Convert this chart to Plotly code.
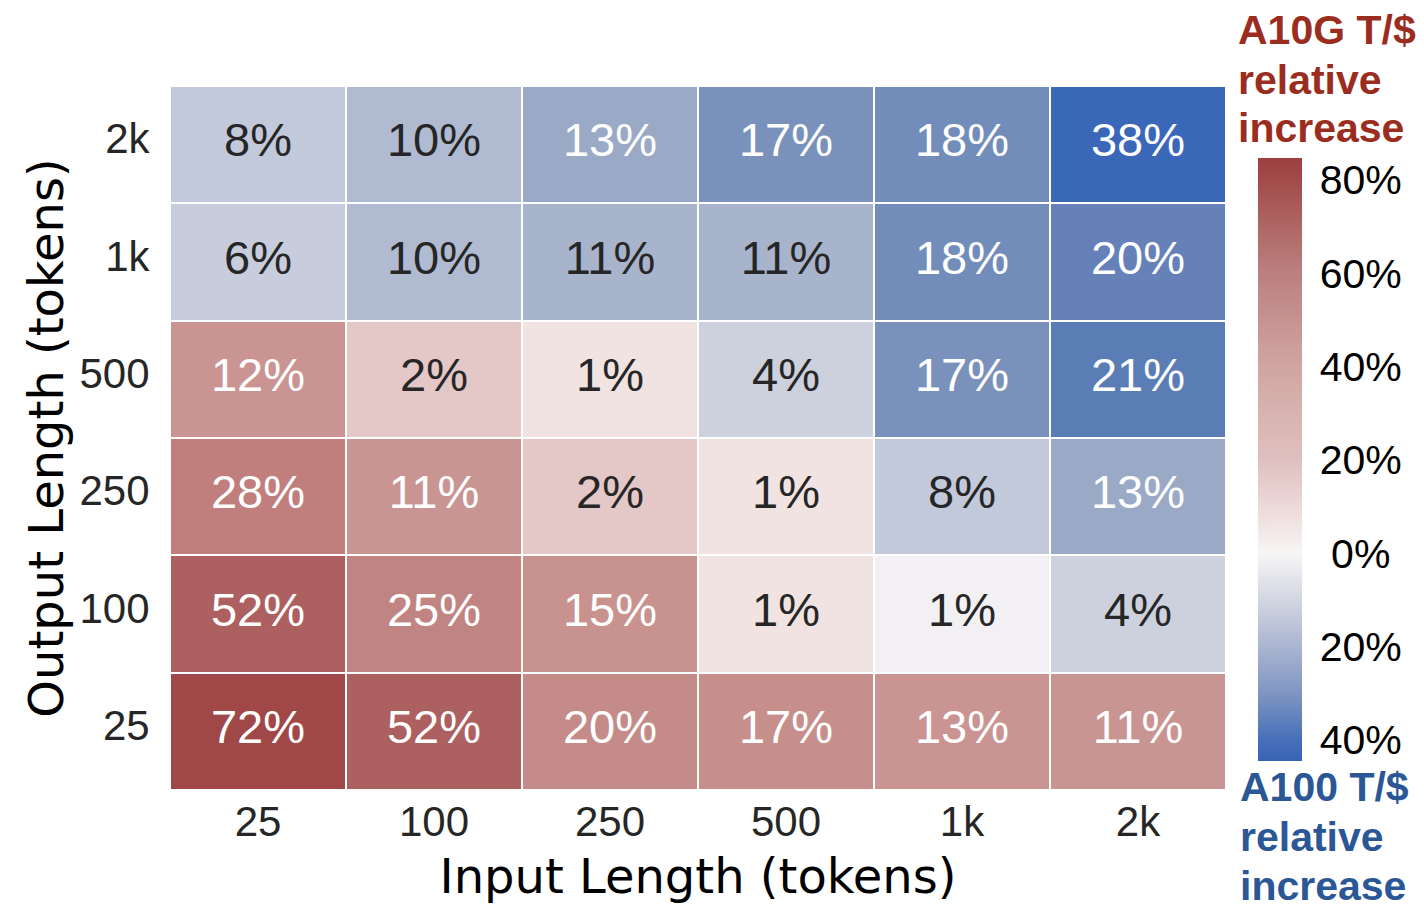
import plotly.graph_objects as go

# ---------------- data ----------------
input_lengths = ["25", "100", "250", "500", "1k", "2k"]          # x categories
output_lengths = ["25", "100", "250", "500", "1k", "2k"]         # y categories (bottom -> top)

# signed relative increase (%): positive = A10G T/$ better (red), negative = A100 T/$ better (blue)
rel_out_25 = [72, 52, 20, 17, 13, 11]
rel_out_100 = [52, 25, 15, 1, -1, -4]
rel_out_250 = [28, 11, 2, 1, -8, -13]
rel_out_500 = [12, 2, 1, -4, -17, -21]
rel_out_1k = [-6, -10, -11, -11, -18, -20]
rel_out_2k = [-8, -10, -13, -17, -18, -38]

cbar_tickvals = [-40, -20, 0, 20, 40, 60, 80]
cbar_ticktext = ["40%", "20%", "\u00a00%", "20%", "40%", "60%", "80%"]

z_rows = [rel_out_25, rel_out_100, rel_out_250, rel_out_500, rel_out_1k, rel_out_2k]

# ---------------- style ----------------
ZMIN, ZMAX = -44.5, 84.7
# colour stops (value, colour) for the cells
cell_stops = [
    (-44.5, "#3760b3"), (-38, "#3a67b8"), (-21, "#5a7db5"), (-20, "#6581b8"),
    (-18, "#738dbb"), (-17, "#7a92bb"), (-13, "#9aa9c6"), (-11, "#a8b4cc"),
    (-10, "#b0bbd1"), (-8, "#c2c9da"), (-4, "#ccd1dd"), (-1, "#f2f0f3"),
    (0, "#f6f3f3"), (1, "#f1e3e1"), (2, "#e4c7c7"), (11, "#c99592"),
    (15, "#c8928f"), (20, "#c48b88"), (25, "#c08583"), (28, "#c07e7c"),
    (52, "#ad6060"), (72, "#a04848"), (84.7, "#983a3a"),
]
# colour stops for the colour bar (smooth)
bar_stops = [
    (-44.5, "#3962b5"), (-40, "#4670b9"), (-30, "#7f95c2"), (-20, "#aab5d0"),
    (-10, "#d2d6e2"), (0, "#f7f5f5"), (10, "#ecd9d8"), (20, "#dfc0be"),
    (40, "#d0a5a3"), (60, "#bb807f"), (80, "#a24c4a"), (84.7, "#9b3f3f"),
]


def to_scale(stops):
    return [[(v - ZMIN) / (ZMAX - ZMIN), c] for v, c in stops]


def hex2rgb(h):
    h = h.lstrip("#")
    return tuple(int(h[i:i + 2], 16) for i in (0, 2, 4))


def color_at(v):
    for (v0, c0), (v1, c1) in zip(cell_stops[:-1], cell_stops[1:]):
        if v0 <= v <= v1:
            t = (v - v0) / (v1 - v0) if v1 != v0 else 0
            a, b = hex2rgb(c0), hex2rgb(c1)
            return tuple(a[i] + (b[i] - a[i]) * t for i in range(3))
    return hex2rgb(cell_stops[-1][1])


def text_color(v):
    r, g, b = color_at(v)
    lum = 0.299 * r + 0.587 * g + 0.114 * b
    return "white" if lum < 172 else "#262626"


OFF = 8  # page body margin
W, H = 1424 - OFF, 920 - OFF
L, R, T, B = 170 - OFF, 1226 - OFF, 86 - OFF, 790 - OFF
PW, PH = R - L, B - T


def px_x(px):
    return (px - OFF - L) / PW


def px_y(py):
    return 1 - (py - OFF - T) / PH


xs, ys, labels, tcolors, vals = [], [], [], [], []
for yi, row in zip(output_lengths, z_rows):
    for xi, v in zip(input_lengths, row):
        xs.append(xi)
        ys.append(yi)
        labels.append(f"{abs(v)}%")
        tcolors.append(text_color(v))
        vals.append(v)

fig = go.Figure()
fig.add_trace(go.Heatmap(
    x=input_lengths, y=output_lengths, z=z_rows,
    zmin=ZMIN, zmax=ZMAX, colorscale=to_scale(cell_stops),
    xgap=2, ygap=2, showscale=False, hoverinfo="skip",
))
fig.add_trace(go.Scatter(
    x=xs, y=ys, mode="markers+text", text=labels,
    textfont=dict(family="Liberation Sans, Arial, sans-serif", size=47, color=tcolors),
    textposition="middle center",
    marker=dict(size=1, opacity=0, color=vals, cmin=ZMIN, cmax=ZMAX,
                colorscale=to_scale(bar_stops), showscale=True,
                colorbar=dict(
                    x=px_x(1258), xanchor="left", xpad=0, ypad=0,
                    y=px_y((158 + 761) / 2), yanchor="middle",
                    lenmode="pixels", len=603, thickness=44,
                    outlinewidth=0, tickvals=cbar_tickvals, ticktext=cbar_ticktext,
                    ticks="outside", ticklen=10, tickcolor="rgba(0,0,0,0)",
                    tickfont=dict(family="Liberation Sans, Arial, sans-serif", size=41, color="black"),
                )),
    hoverinfo="skip", showlegend=False,
))

tick_font = dict(family="Liberation Sans, Arial, sans-serif", size=42, color="#262626")
title_font = dict(family="DejaVu Sans, sans-serif", size=48, color="black")

fig.update_xaxes(
    type="category", categoryorder="array", categoryarray=input_lengths,
    tickfont=tick_font, ticks="", ticklabelstandoff=3,
    showgrid=False, zeroline=False, showline=False,
    title=dict(text="Input Length (tokens)", font=title_font, standoff=15),
)
fig.update_yaxes(
    type="category", categoryorder="array", categoryarray=output_lengths,
    tickfont=tick_font, ticks="outside", ticklen=11, tickcolor="rgba(0,0,0,0)",
    ticklabelshift=-6,
    showgrid=False, zeroline=False, showline=False,
    title=dict(text="Output Length (tokens)", font=title_font, standoff=0),
)

red = "#9b2d1f"
blue = "#2b5797"
ann_font_r = dict(family="Liberation Sans, Arial, sans-serif", size=41, color=red)
ann_font_b = dict(family="Liberation Sans, Arial, sans-serif", size=41, color=blue)
annotations = []
for txt, cy in [("A10G T/$", 30), ("relative", 80), ("increase", 128)]:
    annotations.append(dict(text=f"<b>{txt}</b>", x=px_x(1236), y=px_y(cy), xref="paper", yref="paper",
                            xanchor="left", yanchor="middle", showarrow=False, font=ann_font_r))
for txt, cy in [("A100 T/$", 787), ("relative", 837), ("increase", 886)]:
    annotations.append(dict(text=f"<b>{txt}</b>", x=px_x(1238), y=px_y(cy), xref="paper", yref="paper",
                            xanchor="left", yanchor="middle", showarrow=False, font=ann_font_b))

fig.update_layout(
    width=W, height=H, autosize=False,
    margin=dict(l=L, r=W - R, t=T, b=H - B, pad=0),
    paper_bgcolor="white", plot_bgcolor="white",
    annotations=annotations,
)

fig.write_html("out.html")
